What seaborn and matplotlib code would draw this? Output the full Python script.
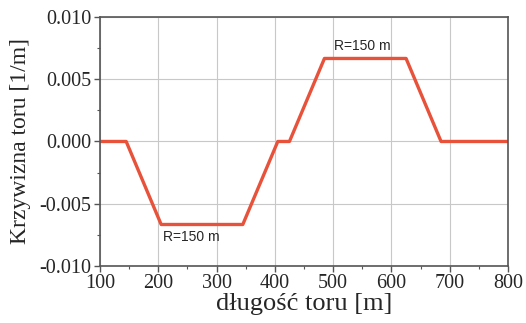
import matplotlib
matplotlib.use("Agg")
import matplotlib.pyplot as plt
import seaborn as sns
import pandas as pd
from matplotlib.ticker import MultipleLocator

distance = [100, 145, 205, 345, 405, 425, 485, 625, 685, 800]
curvature = [0.0, 0.0, -1/150, -1/150, 0.0, 0.0, 1/150, 1/150, 0.0, 0.0]
labels = ["R=150 m", "R=150 m"]
label_x = [208, 502]
label_y = [-0.0077, 0.0077]

df = pd.DataFrame({"x": distance, "y": curvature})

sns.set_theme(style="white")
fig = plt.figure(figsize=(5.26, 3.23), dpi=100)
ax = fig.add_axes([0.190, 0.1765, 0.776, 0.771])

sns.lineplot(data=df, x="x", y="y", ax=ax, color="#E8523A", linewidth=2.4, sort=False)

ax.set_xlim(100, 800)
ax.set_ylim(-0.010, 0.010)
ax.xaxis.set_major_locator(MultipleLocator(100))
ax.xaxis.set_minor_locator(MultipleLocator(50))
ax.yaxis.set_major_locator(MultipleLocator(0.005))
ax.yaxis.set_minor_locator(MultipleLocator(0.0025))
ax.yaxis.set_major_formatter(matplotlib.ticker.FormatStrFormatter("%.3f"))
ax.grid(True, which="major", color="#c8c8c8", linewidth=0.8)
ax.set_axisbelow(True)

for s in ax.spines.values():
    s.set_color("#555555")
    s.set_linewidth(1.2)

ax.tick_params(axis="both", which="major", direction="out", length=4, width=1.0,
               color="#555555", labelsize=14.5, pad=2,
               bottom=True, left=True, top=False, right=False)
ax.tick_params(axis="both", which="minor", direction="out", length=2, width=0.8,
               color="#555555", bottom=True, left=True, top=False, right=False)
for lab in ax.get_xticklabels() + ax.get_yticklabels():
    lab.set_fontfamily("Liberation Serif")

ax.set_xlabel("długość toru [m]", fontsize=19, fontfamily="Liberation Serif", labelpad=0)
ax.set_ylabel("Krzywizna toru [1/m]", fontsize=17, fontfamily="Liberation Serif", labelpad=6)

for t, x, y in zip(labels, label_x, label_y):
    ax.text(x, y, t, fontsize=10, fontfamily="Liberation Sans", va="center", ha="left")

fig.savefig("out.png", dpi=100)
